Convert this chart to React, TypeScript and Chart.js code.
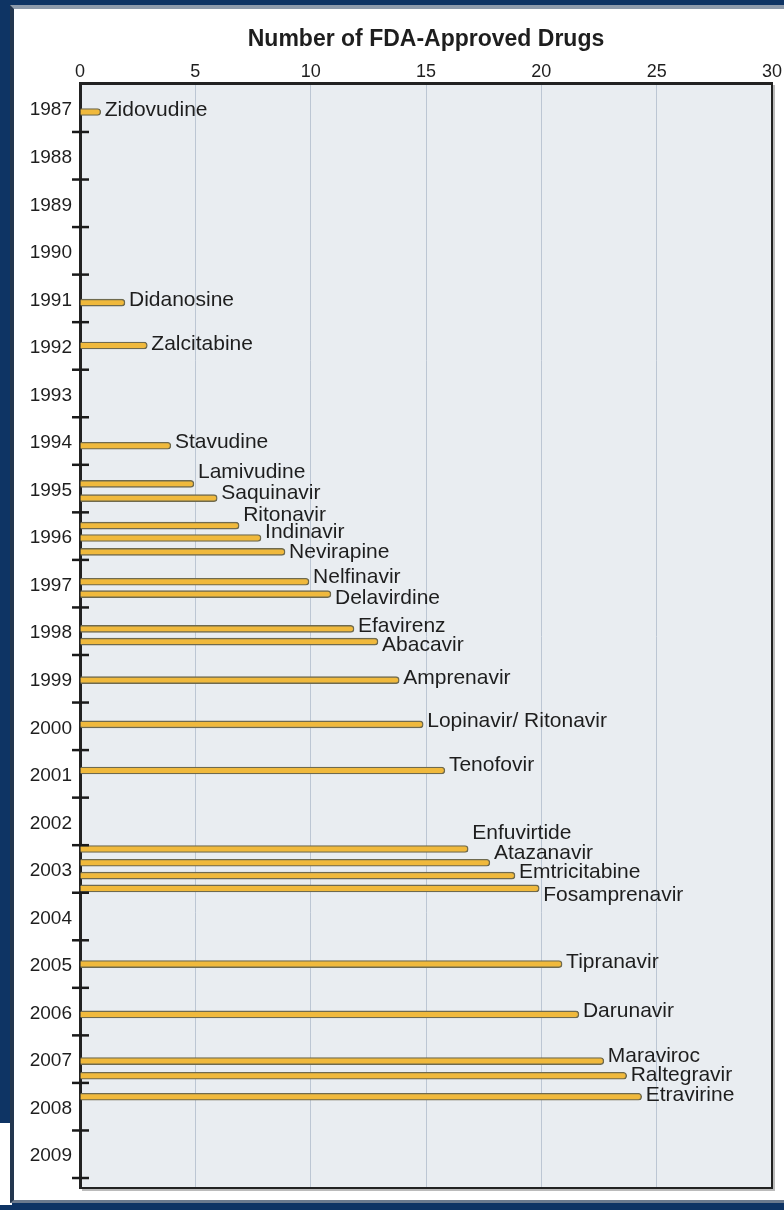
import React, { useEffect, useRef } from "react";
import { Chart, registerables } from "chart.js";

Chart.register(...registerables);

// ---- data ----
const drugNames = [
  "Zidovudine", "Didanosine", "Zalcitabine", "Stavudine", "Lamivudine", "Saquinavir",
  "Ritonavir", "Indinavir", "Nevirapine", "Nelfinavir", "Delavirdine", "Efavirenz",
  "Abacavir", "Amprenavir", "Lopinavir/ Ritonavir", "Tenofovir", "Enfuvirtide",
  "Atazanavir", "Emtricitabine", "Fosamprenavir", "Tipranavir", "Darunavir",
  "Maraviroc", "Raltegravir", "Etravirine",
];
// approval position on the year axis (fractional year)
const approvalYear = [
  1987.08, 1991.09, 1991.99, 1994.1, 1994.9, 1995.2,
  1995.78, 1996.04, 1996.33, 1996.96, 1997.22, 1997.95,
  1998.22, 1999.03, 1999.96, 2000.93, 2002.58,
  2002.87, 2003.14, 2003.41, 2005.0, 2006.06,
  2007.04, 2007.35, 2007.79,
];
// cumulative number of FDA-approved drugs (bar length as drawn)
const drugCount = [
  0.9, 1.95, 2.92, 3.94, 4.94, 5.95,
  6.9, 7.85, 8.89, 9.93, 10.88, 11.88,
  12.92, 13.84, 14.88, 15.82, 16.83,
  17.77, 18.86, 19.91, 20.9, 21.63,
  22.71, 23.7, 24.35,
];
const yearLabels = [
  1987, 1988, 1989, 1990, 1991, 1992, 1993, 1994, 1995, 1996, 1997, 1998,
  1999, 2000, 2001, 2002, 2003, 2004, 2005, 2006, 2007, 2008, 2009,
];
const xTicks = [0, 5, 10, 15, 20, 25, 30];
const titleText = "Number of FDA-Approved Drugs";

// ---- layout / style ----
const labelDy = [
  -2, -2, -1, -4, -12, -5,
  -10, -6, 0, -5, 4, -3,
  4, -2, -3, -5, -16,
  -10, -3, 7, -2, -3,
  -5, -1, -2,
];
const NAVY = "#0e3464";
const FONT = "'Liberation Sans', Arial, sans-serif";
const TEXT = "#1e1e1e";

const framePlugin = {
  id: "frame",
  beforeDraw(chart: any) {
    const { ctx, chartArea: a } = chart;
    ctx.save();
    ctx.fillStyle = "#e9edf1";
    ctx.fillRect(a.left, a.top, a.right - a.left, a.bottom - a.top);
    ctx.restore();
  },
  afterDatasetsDraw(chart: any) {
    const { ctx } = chart;
    const meta = chart.getDatasetMeta(0);
    ctx.save();
    ctx.font = `21px ${FONT}`;
    ctx.fillStyle = TEXT;
    ctx.textAlign = "left";
    ctx.textBaseline = "middle";
    meta.data.forEach((bar: any, i: number) => {
      ctx.fillText(drugNames[i], bar.x + 4, bar.y + labelDy[i]);
    });
    ctx.restore();
  },
  afterDraw(chart: any) {
    const { ctx, chartArea: a } = chart;
    const ys = chart.scales.y;
    ctx.save();
    // right & bottom frame with soft shadow
    ctx.strokeStyle = "rgba(120,120,120,0.5)";
    ctx.lineWidth = 2;
    ctx.beginPath();
    ctx.moveTo(a.right + 2, a.top + 2);
    ctx.lineTo(a.right + 2, a.bottom + 2);
    ctx.lineTo(a.left + 2, a.bottom + 2);
    ctx.stroke();
    ctx.strokeStyle = "#222";
    ctx.lineWidth = 2;
    ctx.beginPath();
    ctx.moveTo(a.right, a.top);
    ctx.lineTo(a.right, a.bottom);
    ctx.lineTo(a.left, a.bottom);
    ctx.stroke();
    // year boundary tick marks crossing the axis
    ctx.strokeStyle = "#1a1a1a";
    ctx.lineWidth = 2.5;
    yearLabels.forEach((yr) => {
      const py = ys.getPixelForValue(yr + 0.5);
      ctx.beginPath();
      ctx.moveTo(a.left - 8, py);
      ctx.lineTo(a.left + 9, py);
      ctx.stroke();
    });
    ctx.restore();
  },
};

export default function App() {
  const ref = useRef<HTMLCanvasElement | null>(null);

  useEffect(() => {
    if (!ref.current) return;
    const chart = new Chart(ref.current, {
      type: "bar",
      data: {
        datasets: [
          {
            data: drugCount.map((v, i) => ({ x: v, y: approvalYear[i] })),
            backgroundColor: "#f0b93c",
            borderColor: "#6f6a4e",
            borderWidth: 1.4,
            borderRadius: 3.5,
            borderSkipped: "start",
            barThickness: 7,
          } as any,
        ],
      },
      options: {
        indexAxis: "y",
        responsive: false,
        animation: false,
        events: [],
        layout: { padding: { left: 0, top: 0, right: 12, bottom: 12 } },
        plugins: {
          legend: { display: false },
          tooltip: { enabled: false },
          title: { display: false },
        },
        scales: {
          x: {
            type: "linear",
            position: "top",
            min: 0,
            max: 30,
            afterBuildTicks: (s: any) => {
              s.ticks = xTicks.map((v) => ({ value: v }));
            },
            afterFit: (s: any) => {
              s.height = 73;
              s.paddingLeft = 0;
              s.paddingRight = 0;
            },
            ticks: {
              color: TEXT,
              font: { family: FONT, size: 18 },
              padding: 0,
              maxRotation: 0,
            },
            grid: {
              color: "#bcc6d3",
              lineWidth: 1,
              drawTicks: false,
            },
            border: { display: true, color: "#222", width: 3 },
            title: {
              display: true,
              text: titleText,
              color: TEXT,
              font: { family: FONT, size: 23, weight: "bold" },
              padding: { top: 16, bottom: 0 },
            },
          },
          y: {
            type: "linear",
            position: "left",
            reverse: true,
            offset: false,
            min: 1986.47,
            max: 2009.71,
            afterBuildTicks: (s: any) => {
              s.ticks = yearLabels.map((v) => ({ value: v }));
            },
            afterFit: (s: any) => {
              s.width = 65;
              s.paddingTop = 0;
              s.paddingBottom = 0;
            },
            ticks: {
              color: TEXT,
              font: { family: FONT, size: 19 },
              padding: 8,
              labelOffset: 2,
              callback: (v: any) => String(v),
            },
            grid: { display: false, drawTicks: false },
            border: { display: true, color: "#222", width: 3 },
          },
        },
      } as any,
      plugins: [framePlugin],
    });
    return () => chart.destroy();
  }, []);

  return (
    <div
      style={{
        position: "absolute",
        left: 0,
        top: 0,
        width: 784,
        height: 1210,
        background: NAVY,
        overflow: "hidden",
      }}
    >
      <div
        style={{
          position: "absolute",
          left: 0,
          top: 1123,
          width: 12,
          height: 82,
          background: "#ffffff",
        }}
      />
      <div
        style={{
          position: "absolute",
          left: 10,
          top: 5,
          width: 774,
          height: 1198,
          background: "#ffffff",
          borderLeft: "4px solid #23364f",
          borderTop: "4px solid #8e9bab",
          borderBottom: "3px solid #6b7a8d",
          boxSizing: "border-box",
        }}
      />
      <canvas
        ref={ref}
        width={769}
        height={1190}
        style={{ position: "absolute", left: 15, top: 10, width: 769, height: 1190 }}
      />
    </div>
  );
}
